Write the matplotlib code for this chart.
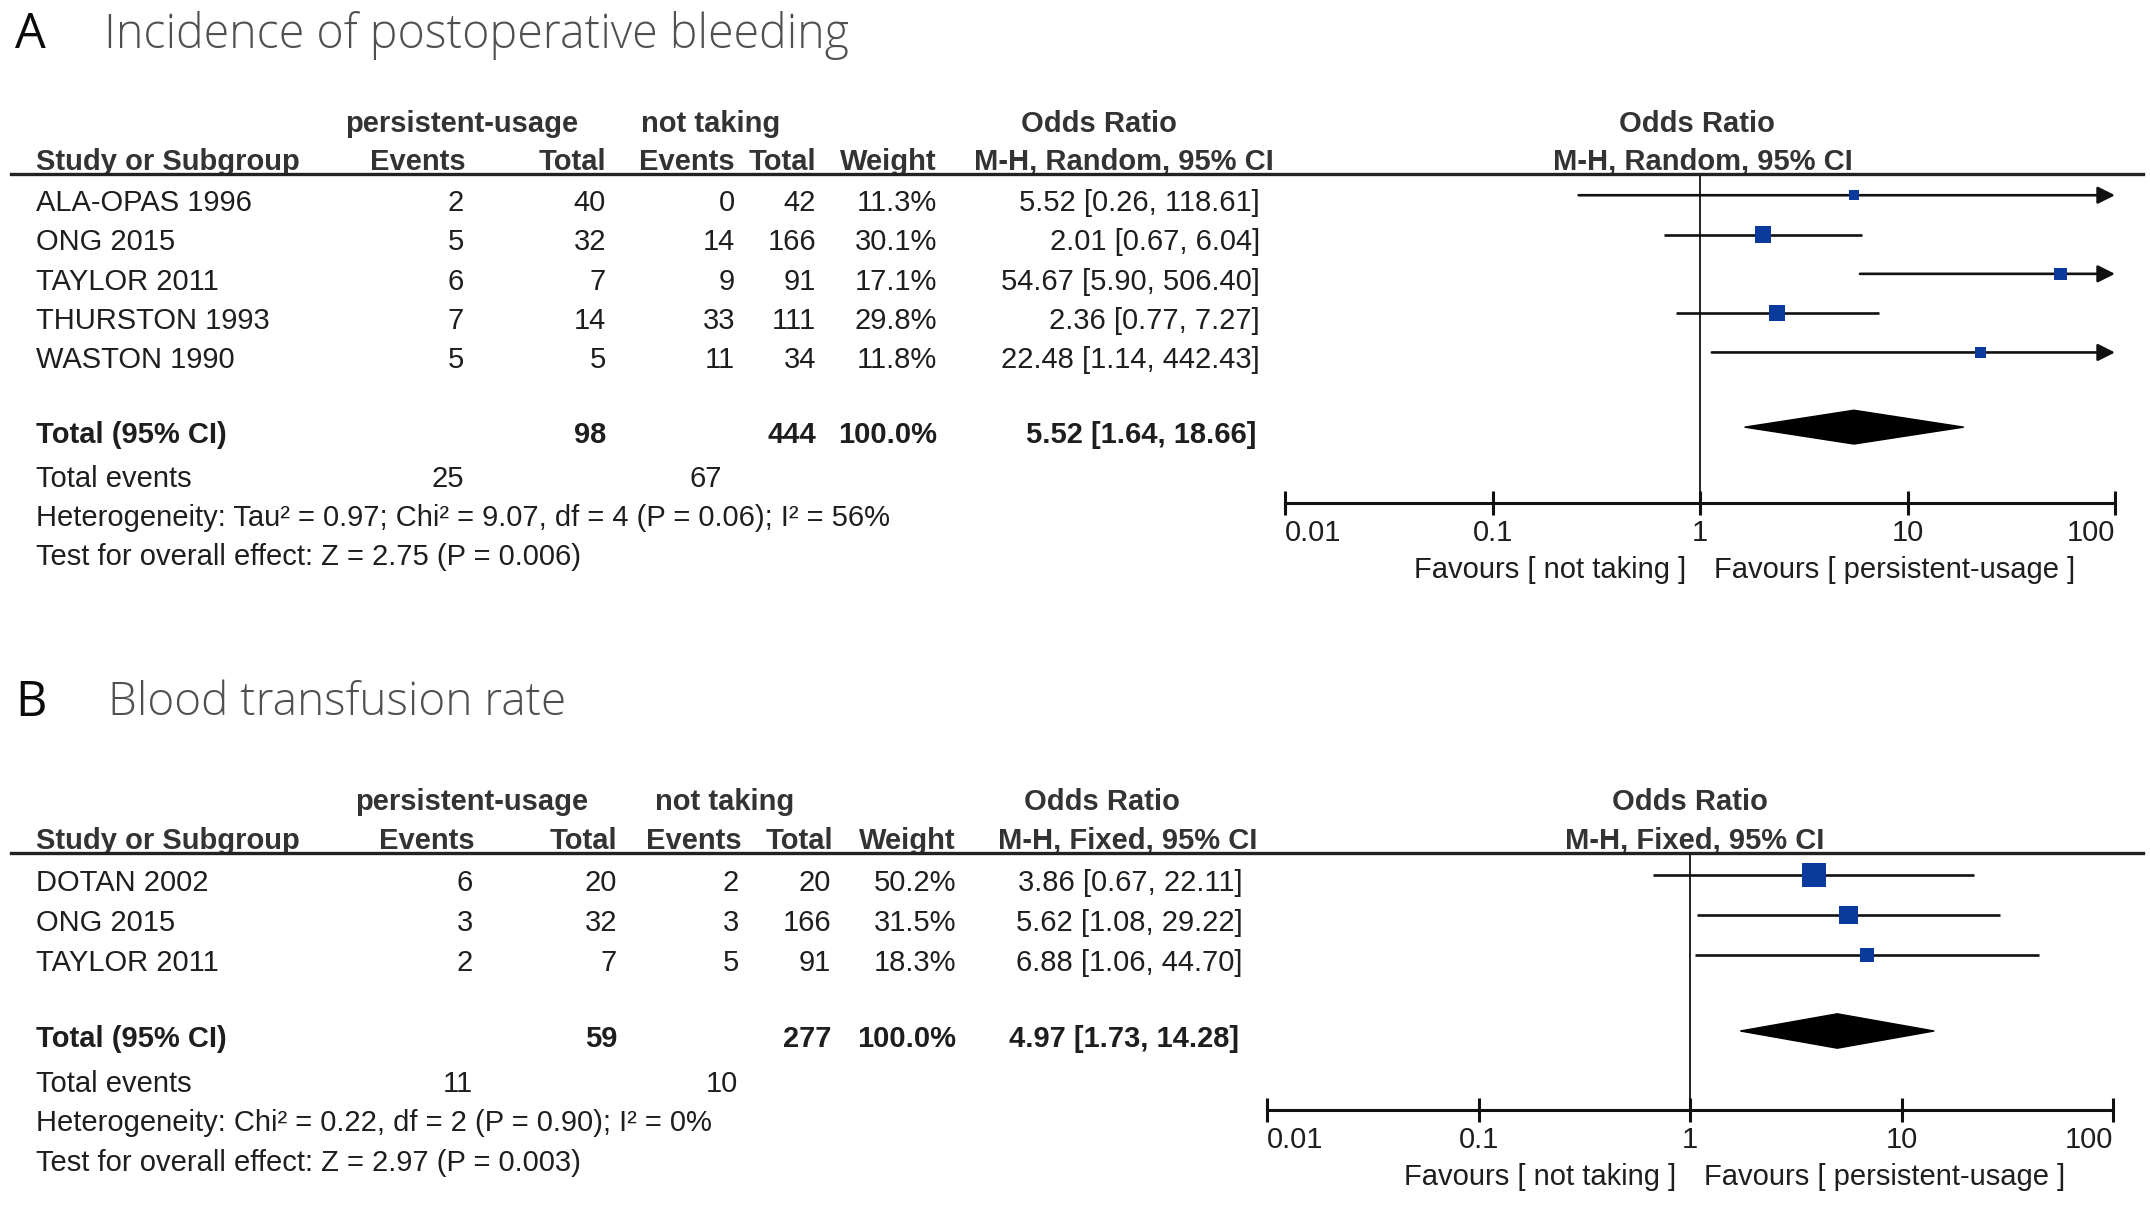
import matplotlib
matplotlib.use('Agg')
import matplotlib.pyplot as plt
from matplotlib.transforms import blended_transform_factory as btf
from matplotlib.patches import Polygon
from matplotlib.lines import Line2D
from matplotlib.ticker import NullLocator
import numpy as np

W, H = 2150, 1205

# ---------------- Panel A data ----------------
a_letter = 'A'
a_title = 'Incidence of postoperative bleeding'
a_studies = ['ALA-OPAS 1996', 'ONG 2015', 'TAYLOR 2011', 'THURSTON 1993', 'WASTON 1990']
a_ev1 = [2, 5, 6, 7, 5]
a_tot1 = [40, 32, 7, 14, 5]
a_ev2 = [0, 14, 9, 33, 11]
a_tot2 = [42, 166, 91, 111, 34]
a_weight = [11.3, 30.1, 17.1, 29.8, 11.8]
a_or = [5.52, 2.01, 54.67, 2.36, 22.48]
a_lo = [0.26, 0.67, 5.90, 0.77, 1.14]
a_hi = [118.61, 6.04, 506.40, 7.27, 442.43]
a_sum_tot1, a_sum_tot2 = 98, 444
a_sum_or, a_sum_lo, a_sum_hi = 5.52, 1.64, 18.66
a_sum_ev1, a_sum_ev2 = 25, 67
a_method = 'M-H, Random, 95% CI'
a_het = 'Heterogeneity: Tau² = 0.97; Chi² = 9.07, df = 4 (P = 0.06); I² = 56%'
a_test = 'Test for overall effect: Z = 2.75 (P = 0.006)'

# ---------------- Panel B data ----------------
b_letter = 'B'
b_title = 'Blood transfusion rate'
b_studies = ['DOTAN 2002', 'ONG 2015', 'TAYLOR 2011']
b_ev1 = [6, 3, 2]
b_tot1 = [20, 32, 7]
b_ev2 = [2, 3, 5]
b_tot2 = [20, 166, 91]
b_weight = [50.2, 31.5, 18.3]
b_or = [3.86, 5.62, 6.88]
b_lo = [0.67, 1.08, 1.06]
b_hi = [22.11, 29.22, 44.70]
b_sum_tot1, b_sum_tot2 = 59, 277
b_sum_or, b_sum_lo, b_sum_hi = 4.97, 1.73, 14.28
b_sum_ev1, b_sum_ev2 = 11, 10
b_method = 'M-H, Fixed, 95% CI'
b_het = 'Heterogeneity: Chi² = 0.22, df = 2 (P = 0.90); I² = 0%'
b_test = 'Test for overall effect: Z = 2.97 (P = 0.003)'

tick_vals = [0.01, 0.1, 1, 10, 100]
tick_labels = ['0.01', '0.1', '1', '10', '100']
fav_left = 'Favours [ not taking ]'
fav_right = 'Favours [ persistent-usage ]'
grp1 = 'persistent-usage'
grp2 = 'not taking'

TXT = '#1e1e1e'
HDR = '#333333'
BLUE = '#0a3a9c'
FS = 21
FONT = ['Liberation Sans', 'DejaVu Sans']
TFONT = ['Open Sans', 'Noto Sans', 'DejaVu Sans']
MARK_DY = -0.2   # marks sit slightly above the text baseline row

fig = plt.figure(figsize=(W / 100, H / 100), dpi=100)


def panel(d, L):
    ax = fig.add_axes([L['ax_l'] / W, 1 - L['ax_b'] / H,
                       (L['ax_r'] - L['ax_l']) / W, (L['ax_b'] - L['ax_t']) / H])
    n = len(d['studies'])
    ax.set_xscale('log')
    ax.set_xlim(0.01, 100)
    ax.set_ylim(L['ylo'], L['yhi'])
    for s in ['top', 'left', 'right']:
        ax.spines[s].set_visible(False)
    ax.spines['bottom'].set_linewidth(2.2)
    ax.spines['bottom'].set_color('#111111')
    ax.set_yticks([])
    ax.set_xticks(tick_vals)
    ax.set_xticklabels(tick_labels, fontsize=FS, color=TXT, family=FONT)
    ax.xaxis.set_minor_locator(NullLocator())
    ax.tick_params(axis='x', direction='inout', length=17, width=2.2,
                   color='#111111', pad=3)
    lbls = ax.get_xticklabels()
    lbls[0].set_ha('left')
    lbls[-1].set_ha('right')
    ax.patch.set_alpha(0)

    ax.axvline(1, color='#111111', lw=1.3, zorder=1)

    rows = np.arange(n)
    my = rows + MARK_DY
    for i in range(n):
        hi = d['hi'][i]
        if hi > 100:
            ax.annotate('', xy=(100, my[i]), xytext=(d['lo'][i], my[i]),
                        arrowprops=dict(arrowstyle='-|>', lw=1.9, color='#111111',
                                        mutation_scale=26, shrinkA=0, shrinkB=0),
                        annotation_clip=False, zorder=2)
        else:
            ax.plot([d['lo'][i], hi], [my[i], my[i]], color='#111111', lw=1.9,
                    solid_capstyle='butt', zorder=2)
    side = L['k'] * np.sqrt(np.array(d['weight']))  # pixels
    ax.scatter(d['or'], my, marker='s', s=(side * 0.72) ** 2, color=BLUE,
               linewidths=0, zorder=3)

    ty = n + 0.9
    dy = ty + MARK_DY
    hh = 0.43
    dia = Polygon([[d['sum_lo'], dy], [d['sum_or'], dy - hh], [d['sum_hi'], dy],
                   [d['sum_or'], dy + hh]], closed=True, color='black', zorder=3)
    ax.add_patch(dia)

    # header line
    tr_line = btf(fig.transFigure, ax.transAxes)
    fig.add_artist(Line2D([11 / W, 2143 / W], [1, 1], transform=tr_line,
                          color='#222222', lw=2.4))

    tr = btf(fig.transFigure, ax.transData)
    fx = lambda p: p / W

    def t(x, y, s, ha='right', bold=False, color=TXT):
        ax.text(fx(x), y, s, transform=tr, ha=ha, va='center', fontsize=FS,
                family=FONT, color=color, fontweight='bold' if bold else 'normal')

    # headers
    y1, y2 = -2.02, -1.05
    t(L['g1c'], y1, grp1, ha='center', bold=True, color=HDR)
    t(L['g2c'], y1, grp2, ha='center', bold=True, color=HDR)
    t(L['orc'], y1, 'Odds Ratio', ha='center', bold=True, color=HDR)
    ax.text(L['fc1'], y1, 'Odds Ratio', transform=btf(ax.transAxes, ax.transData),
            ha='center', va='center', fontsize=FS, family=FONT, color=HDR,
            fontweight='bold')
    ax.text(L['fc2'], y2, d['method'], transform=btf(ax.transAxes, ax.transData),
            ha='center', va='center', fontsize=FS, family=FONT, color=HDR,
            fontweight='bold')
    t(36, y2, 'Study or Subgroup', ha='left', bold=True, color=HDR)
    t(L['h_e1'], y2, 'Events', bold=True, color=HDR)
    t(L['h_t1'], y2, 'Total', bold=True, color=HDR)
    t(L['h_e2'], y2, 'Events', bold=True, color=HDR)
    t(L['h_t2'], y2, 'Total', bold=True, color=HDR)
    t(L['h_w'], y2, 'Weight', bold=True, color=HDR)
    t(L['h_ci'], y2, d['method'], bold=True, color=HDR)

    for i in range(n):
        y = rows[i]
        t(36, y, d['studies'][i], ha='left')
        t(L['e1'], y, str(d['ev1'][i]))
        t(L['t1'], y, str(d['tot1'][i]))
        t(L['e2'], y, str(d['ev2'][i]))
        t(L['t2'], y, str(d['tot2'][i]))
        t(L['w'], y, f"{d['weight'][i]:.1f}%")
        t(L['ci'], y, f"{d['or'][i]:.2f} [{d['lo'][i]:.2f}, {d['hi'][i]:.2f}]")

    t(36, ty, 'Total (95% CI)', ha='left', bold=True)
    t(L['t1'], ty, str(d['sum_tot1']), bold=True)
    t(L['t2'], ty, str(d['sum_tot2']), bold=True)
    t(L['w'], ty, '100.0%', bold=True)
    t(L['ci_tot'], ty, f"{d['sum_or']:.2f} [{d['sum_lo']:.2f}, {d['sum_hi']:.2f}]", bold=True)

    t(36, n + 2.02, 'Total events', ha='left')
    t(L['e1'], n + 2.02, str(d['sum_ev1']))
    t(L['se2'], n + 2.02, str(d['sum_ev2']))
    t(36, n + 3.0, d['het'], ha='left')
    t(36, n + 4.0, d['test'], ha='left')

    # favours labels
    ax.annotate(fav_left, xy=(1, 0), xycoords=('data', 'axes fraction'),
                xytext=(-14, -67), textcoords='offset pixels', ha='right',
                va='center', fontsize=FS, family=FONT, color=TXT)
    ax.annotate(fav_right, xy=(1, 0), xycoords=('data', 'axes fraction'),
                xytext=(14, -67), textcoords='offset pixels', ha='left',
                va='center', fontsize=FS, family=FONT, color=TXT)

    # titles
    fig.text(15 / W, 1 - L['title_y'] / H, d['letter'], fontsize=35, family=TFONT,
             color='#0a0a0a', va='center', ha='left', fontweight=500)
    fig.text(L['title_x'] / W, 1 - L['title_y'] / H, d['title'], fontsize=L['tfs'],
             family=TFONT, color='#505050', va='center', ha='left',
             fontweight=300)


dA = dict(letter=a_letter, title=a_title, studies=a_studies, ev1=a_ev1, tot1=a_tot1,
          ev2=a_ev2, tot2=a_tot2, weight=a_weight, lo=a_lo, hi=a_hi,
          sum_tot1=a_sum_tot1, sum_tot2=a_sum_tot2, sum_or=a_sum_or, sum_lo=a_sum_lo,
          sum_hi=a_sum_hi, sum_ev1=a_sum_ev1, sum_ev2=a_sum_ev2, method=a_method,
          het=a_het, test=a_test)
dA['or'] = a_or
dB = dict(letter=b_letter, title=b_title, studies=b_studies, ev1=b_ev1, tot1=b_tot1,
          ev2=b_ev2, tot2=b_tot2, weight=b_weight, lo=b_lo, hi=b_hi,
          sum_tot1=b_sum_tot1, sum_tot2=b_sum_tot2, sum_or=b_sum_or, sum_lo=b_sum_lo,
          sum_hi=b_sum_hi, sum_ev1=b_sum_ev1, sum_ev2=b_sum_ev2, method=b_method,
          het=b_het, test=b_test)
dB['or'] = b_or

LA = dict(ax_l=1285, ax_r=2115, ax_t=174, ax_b=503, ylo=7.63, yhi=-0.74, k=2.95,
          g1c=462, g2c=711, orc=1099, fc1=0.496, fc2=0.504,
          h_e1=466, h_t1=606, h_e2=735, h_t2=816, h_w=937, h_ci=1274,
          e1=464, t1=606, e2=735, t2=816, w=937, ci=1260, ci_tot=1256, se2=722,
          title_x=104, title_y=35, tfs=33.5)
LB = dict(ax_l=1267, ax_r=2113, ax_t=853, ax_b=1110, ylo=5.675, yhi=-0.75, k=3.3,
          g1c=472, g2c=725, orc=1102, fc1=0.5, fc2=0.505,
          h_e1=475, h_t1=617, h_e2=742, h_t2=833, h_w=956, h_ci=1257,
          e1=473, t1=617, e2=739, t2=831, w=956, ci=1243, ci_tot=1239, se2=738,
          title_x=108, title_y=703, tfs=33)

panel(dA, LA)
panel(dB, LB)

fig.savefig('out.png', dpi=100, facecolor='white')
